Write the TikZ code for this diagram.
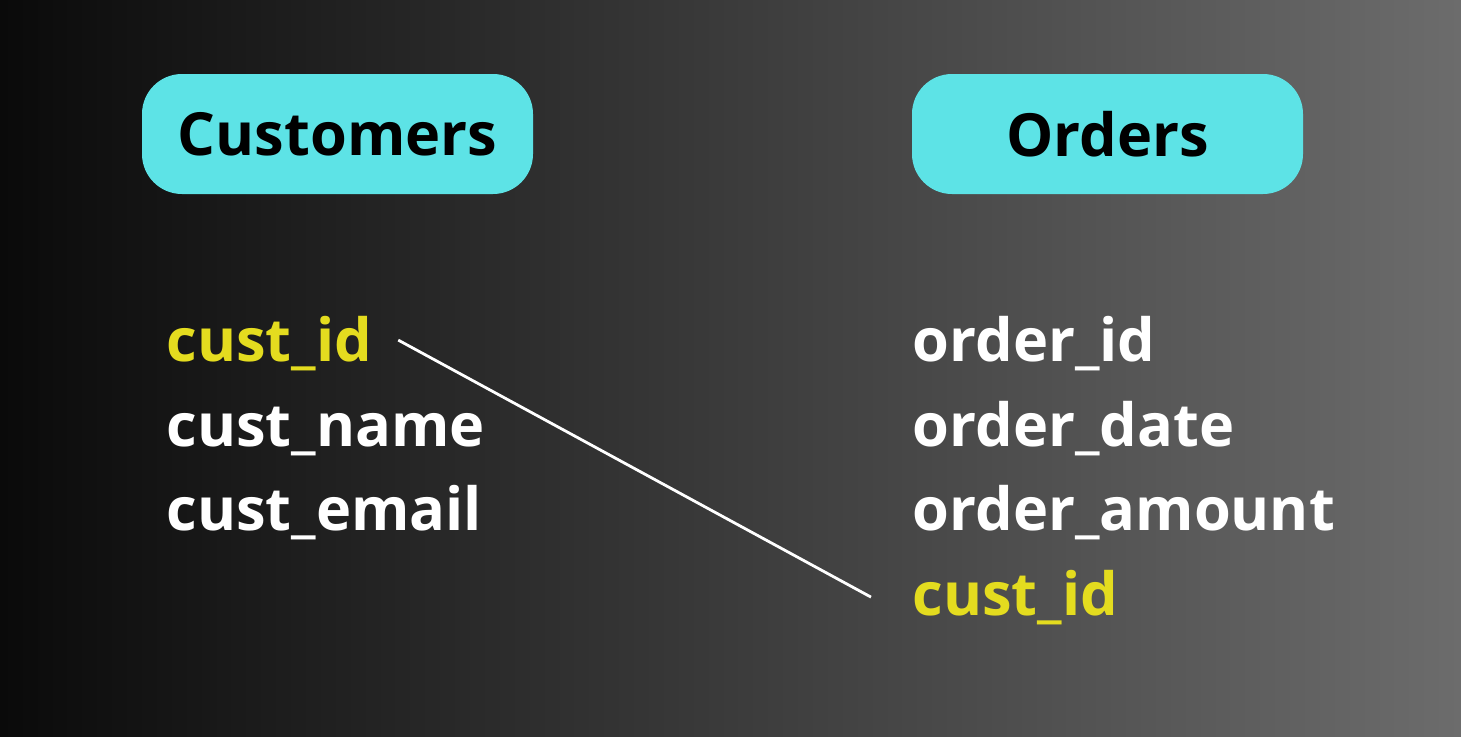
\documentclass[tikz,border=0pt]{standalone}
\usepackage{fontspec}
\setmainfont{Open Sans}
\definecolor{bgL}{RGB}{10,10,10}
\definecolor{bgR}{RGB}{108,108,108}
\definecolor{boxcyan}{RGB}{93,227,230}
\definecolor{keyyellow}{RGB}{228,220,31}
\begin{document}
\begin{tikzpicture}[x=1pt,y=-1pt,
  header/.style={fill=boxcyan, rounded corners=40pt, minimum width=391pt, minimum height=120pt,
    inner sep=0pt, text=black, font=\fontsize{59.5}{60}\selectfont\bfseries},
  field/.style={anchor=base west, inner sep=0pt, text=white, font=\fontsize{59.5}{60}\selectfont\bfseries},
  keyfield/.style={field, text=keyyellow},
  link/.style={draw=white, line width=2.8pt}
]
\shade[left color=bgL, right color=bgR] (0,0) rectangle (1461,736);
\useasboundingbox (0,0) rectangle (1461,736);

\node[header] (cust) at (337.5,134) {Customers};
\node[header] (ord) at (1107.5,134) {Orders};

\node[keyfield] (cid) at (166.5,361) {cust\_id};
\node[field] (cname) at (166.5,446) {cust\_name};
\node[field] (cemail) at (166.5,530) {cust\_email};

\node[field] (oid) at (912.5,361) {order\_id};
\node[field] (odate) at (912.5,446) {order\_date};
\node[field] (oamt) at (912.5,530) {order\_amount};
\node[keyfield] (ocid) at (912.5,615) {cust\_id};

\coordinate (la) at ([xshift=26pt,yshift=3pt]cid.east);
\coordinate (lb) at ([xshift=-41.5pt,yshift=0pt]ocid.west);
\draw[link] (la) -- (lb);
\end{tikzpicture}
\end{document}
